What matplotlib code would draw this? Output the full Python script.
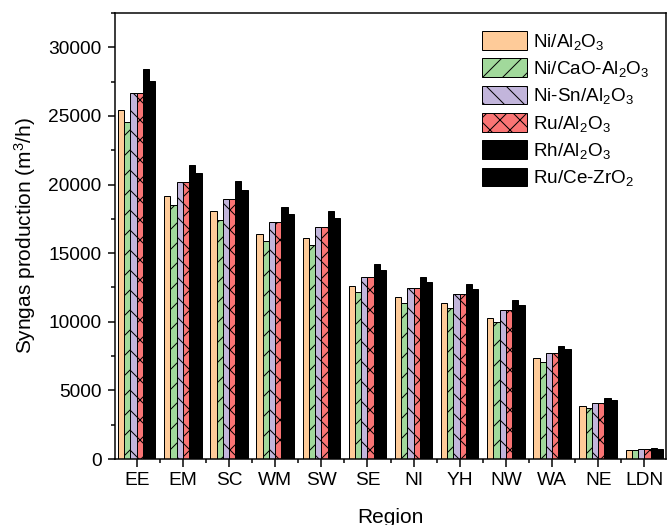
import matplotlib
matplotlib.use("Agg")
import matplotlib.pyplot as plt
import numpy as np
from matplotlib.ticker import MultipleLocator

# Syngas production per region (m3/h)
regions = ["EE", "EM", "SC", "WM", "SW", "SE", "NI", "YH", "NW", "WA", "NE", "LDN"]
ni_al2o3 = [25400, 19150, 18060, 16410, 16110, 12620, 11770, 11380, 10290, 7380, 3860, 660]
ni_cao_al2o3 = [24550, 18500, 17450, 15850, 15560, 12180, 11380, 10970, 9950, 7090, 3740, 640]
ni_sn_al2o3 = [26700, 20150, 18980, 17260, 16940, 13280, 12430, 11990, 10830, 7750, 4080, 700]
ru_al2o3 = [26700, 20150, 18980, 17260, 16940, 13280, 12430, 11990, 10830, 7750, 4080, 700]
rh_al2o3 = [28400, 21460, 20240, 18350, 18040, 14180, 13250, 12740, 11580, 8250, 4420, 780]
ru_ce_zro2 = [27550, 20830, 19630, 17820, 17530, 13740, 12870, 12360, 11190, 8050, 4270, 760]

labels = [r"Ni/Al$_2$O$_3$", r"Ni/CaO-Al$_2$O$_3$", r"Ni-Sn/Al$_2$O$_3$",
          r"Ru/Al$_2$O$_3$", r"Rh/Al$_2$O$_3$", r"Ru/Ce-ZrO$_2$"]
series = [ni_al2o3, ni_cao_al2o3, ni_sn_al2o3, ru_al2o3, rh_al2o3, ru_ce_zro2]
colors = ["#FECB99", "#A1D99B", "#C2B5DB", "#FA7474", "#000000", "#000000"]
hatches = ["", "//", "\\\\", "xx", "", ""]

plt.rcParams["font.family"] = ["Liberation Sans", "DejaVu Sans"]
plt.rcParams["mathtext.fontset"] = "custom"
plt.rcParams["mathtext.rm"] = "Liberation Sans"
plt.rcParams["mathtext.it"] = "Liberation Sans"
plt.rcParams["hatch.linewidth"] = 0.6

dpi = 120
fig = plt.figure(figsize=(667 / dpi, 525 / dpi), dpi=dpi)
ax = fig.add_axes([115 / 667, 66 / 525, 551 / 667, 446 / 525])

x = np.arange(len(regions))
width = 0.135
for i, (vals, lab, c, h) in enumerate(zip(series, labels, colors, hatches)):
    ax.bar(x + (i - 2.5) * width, vals, width, color=c, hatch=h,
           edgecolor="black", linewidth=0.6, label=lab)

ax.set_xlim(-0.47, 11.47)
ax.set_ylim(0, 32500)
ax.set_xticks(x)
ax.set_xticklabels(regions)
ax.xaxis.set_minor_locator(MultipleLocator(1, offset=0.5))
ax.yaxis.set_major_locator(MultipleLocator(5000))
ax.yaxis.set_minor_locator(MultipleLocator(2500))
ax.tick_params(which="major", direction="out", length=4.5, width=0.9,
               labelsize=11.5, pad=3.5)
ax.tick_params(which="minor", direction="out", length=2.5, width=0.9)
for s in ax.spines.values():
    s.set_linewidth(0.9)

ax.set_ylabel("Syngas production (m$^3$/h)", fontsize=12.5, labelpad=6)
ax.set_xlabel("Region", fontsize=12.5, labelpad=11)

ax.legend(loc="upper left", bbox_to_anchor=(482 / 667, 1 - 31 / 525),
          bbox_transform=fig.transFigure, frameon=False, fontsize=11.3,
          handlelength=2.4, handleheight=1.15, labelspacing=0.35,
          handletextpad=0.3, borderpad=0, borderaxespad=0)

fig.savefig("out.png", dpi=dpi)
